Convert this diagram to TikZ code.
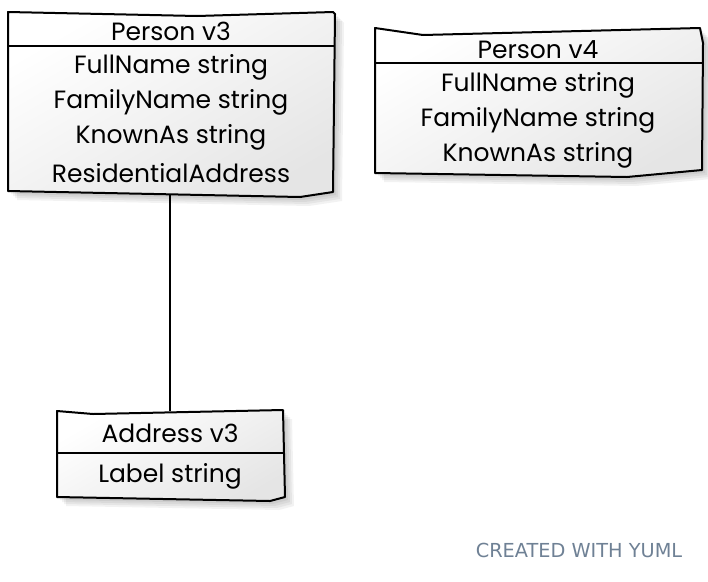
\documentclass[tikz,border=0pt]{standalone}
\usepackage{fontspec}
\setmainfont{Poppins}
\newfontfamily\footfont{DejaVu Sans}
\usetikzlibrary{positioning,fit}
\definecolor{foot}{HTML}{6F8195}
\tikzset{
  x=1pt,y=-1pt,
  outline/.style={draw=black,line width=2pt,line join=round,line cap=round,
     top color=white,bottom color=black!10,shading angle=30},
  sep/.style={draw=black,line width=1.8pt},
  shadowlayer/.style={fill=black,draw=none,opacity=0.05},
  txt/.style={font=\fontsize{25}{25}\selectfont,inner sep=0pt,anchor=center},
  box/.style={draw=none,inner sep=0pt},
  link/.style={draw=black,line width=1.6pt},
  footer/.style={font=\footfont\fontsize{19.3}{19.3}\selectfont,text=foot,inner sep=0pt}
}
\begin{document}
\begin{tikzpicture}
\useasboundingbox[fill=white] (0,0) rectangle (708,581);

% ---------- Person v3 ----------
\foreach \d in {3,5,7,9}{
  \fill[shadowlayer,shift={(\d,\d)}] (8,12) -- (197,16) -- (333,12) -- (335,14) -- (333,192) -- (300,197) -- (8,191) -- cycle;
}
\path[outline] (8,12) -- (197,16) -- (333,12) -- (335,14) -- (333,192) -- (300,197) -- (8,191) -- cycle;
\draw[sep] (8,46) -- (334,46);
\node[box] (p3) at (171,104) {\phantom{\rule{325pt}{180pt}}};
\node[txt] (p3t) at (171,31) {Person v3};
\node[txt] (p3a) at (171,67) {FullName string};
\node[txt] (p3b) at (171,102) {FamilyName string};
\node[txt] (p3c) at (171,137) {KnownAs string};
\node[txt] (p3d) at (171,173) {ResidentialAddress};

% ---------- Person v4 ----------
\foreach \d in {3,5,7,9}{
  \fill[shadowlayer,shift={(\d,\d)}] (375,28) -- (423,35) -- (700,28) -- (703,43) -- (702,170) -- (627,177) -- (375,173) -- cycle;
}
\path[outline] (375,28) -- (423,35) -- (700,28) -- (703,43) -- (702,170) -- (627,177) -- (375,173) -- cycle;
\draw[sep] (375,63) -- (702,63);
\node[box] (p4) at (538,102) {\phantom{\rule{327pt}{145pt}}};
\node[txt] (p4t) at (538,50) {Person v4};
\node[txt] (p4a) at (538,85) {FullName string};
\node[txt] (p4b) at (538,120) {FamilyName string};
\node[txt] (p4c) at (538,155) {KnownAs string};

% ---------- Address v3 ----------
\foreach \d in {3,5,7,9}{
  \fill[shadowlayer,shift={(\d,\d)}] (57,411) -- (93,414) -- (283,410) -- (285,497) -- (270,501) -- (57,497) -- cycle;
}
\path[outline] (57,411) -- (93,414) -- (283,410) -- (285,497) -- (270,501) -- (57,497) -- cycle;
\draw[sep] (57,453) -- (284,453);
\node[box] (a3) at (170,454) {\phantom{\rule{228pt}{86pt}}};
\node[txt] (a3t) at (170,433) {Address v3};
\node[txt] (a3a) at (170,476) {Label string};

% ---------- connector ----------
\draw[link] (a3.north |- p3.south) -- (a3.north);

% ---------- footer ----------
\node[footer] (ft) at (579,550) {CREATED WITH YUML};
\end{tikzpicture}
\end{document}
